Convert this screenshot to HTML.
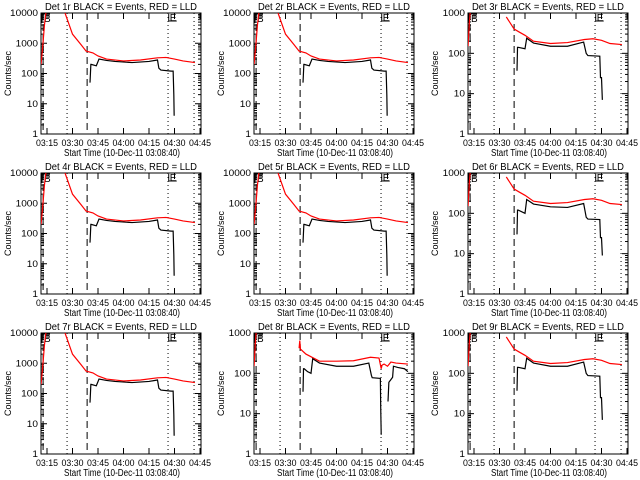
<!DOCTYPE html>
<html><head><meta charset="utf-8"><style>
html,body{margin:0;padding:0;background:#fff;}
svg{display:block;font-family:"Liberation Sans",sans-serif;}
</style></head><body>
<svg id="c" width="640" height="480" viewBox="0 0 640 480"></svg>
<script>
// data: times in minutes after 03:00
const detNames=["1r","2r","3r","4r","5r","6r","7r","8r","9r"];
const decades=[4,4,3,4,4,3,4,3,3];
const xTickLabels=["03:15","03:30","03:45","04:00","04:15","04:30","04:45"];
const xTickTimes=[15,30,45,60,75,90,105];
const markerTimes=[26.8,38.6,86.2,101.5];
const redT1=[11.5,12.5,13.5,14.5,25.6,30,35,38,42,45,50,60,70,80,85,90,95,102];
const redV1=[200,800,4000,12000,10000,2000,900,550,480,380,300,260,280,330,340,300,260,230];
const blkT1=[40.3,40.8,41,44,45.6,50,55,65,75,80,80.8,82,88,89.2,89.6,89.8];
const blkV1=[50,200,200,180,300,270,250,230,250,280,150,130,120,120,20,4];
const redT3=[11.5,12.3,13,31,34,38.6,42,45,50,60,70,80,85,90,95,102];
const redV3=[150,600,1400,1400,800,400,330,280,200,175,185,220,230,210,175,165];
const blkT3=[40.3,40.6,41,45,46,50,60,70,79.5,81,82,89,89.4,90,90.5];
const blkV3=[37,141,141,130,237,180,150,150,190,100,88,85,25,25,7];
const blkV6=[30,120,120,100,220,170,145,140,175,80,72,70,25,25,9];
const redT8=[11.5,12.3,13,34,38,38.4,38.8,42,50,60,70,80,85,86.3,86.8,88,90,92,95,102];
const redV8=[150,600,1400,1400,420,650,400,300,200,200,205,250,240,130,160,170,150,190,180,170];
const blkT8=[40.3,40.6,41,43,45,46,50,60,70,79,80.5,81,85.8,86,86.3];
const blkV8=[35,130,130,110,100,230,180,150,150,180,90,78,75,15,3];
const blkT8b=[90.3,90.8,92,93,93.5,96,100,102];
const blkV8b=[20,60,70,80,150,140,130,110];
const colLeft=[41,254,468], rowTop=[13,173,333], W=160, H=121;
const svg=document.getElementById('c');
const NS="http://www.w3.org/2000/svg";
function mk(tag,at,parent){const e=document.createElementNS(NS,tag);for(const k in at)e.setAttribute(k,at[k]);(parent||svg).appendChild(e);return e;}
for(let p=0;p<9;p++){
  const L=colLeft[p%3], T=rowTop[Math.floor(p/3)], D=decades[p];
  const g=mk('g',{});
  
  
  const xs=t=>L+6+(t-15)*1.7;
  const ys=v=>T+H-Math.log10(Math.max(v,1))/D*H;
  const cp=mk('clipPath',{id:'cp'+p},g);mk('rect',{x:L,y:T,width:W,height:H},cp);
  const fr=mk('rect',{x:L,y:T,width:W,height:H,fill:'none',stroke:'#000','stroke-width':1},g);
  
  
  for(let d=0;d<=D;d++){
    const y=ys(Math.pow(10,d));
    mk('line',{x1:L,x2:L+6,y1:y,y2:y,stroke:'#000'},g);
    mk('line',{x1:L+W-6,x2:L+W,y1:y,y2:y,stroke:'#000'},g);
    const lbl=String(Math.pow(10,d));
    const tx=mk('text',{x:L-3,y:y+3,'font-size':9,'text-anchor':'end',fill:'#000',textLength:lbl.length*5.6,lengthAdjust:'spacingAndGlyphs'},g);
    tx.textContent=lbl;
    
    
    if(d<D)for(let m=2;m<10;m++){const ym=ys(m*Math.pow(10,d));
      mk('line',{x1:L,x2:L+3,y1:ym,y2:ym,stroke:'#000'},g);
      mk('line',{x1:L+W-3,x2:L+W,y1:ym,y2:ym,stroke:'#000'},g);}
  }
  xTickTimes.forEach((t,i)=>{const x=xs(t);
    mk('line',{x1:x,x2:x,y1:T+H,y2:T+H-6,stroke:'#000'},g);
    mk('line',{x1:x,x2:x,y1:T,y2:T+6,stroke:'#000'},g);
    const tx=mk('text',{x:x-11,y:T+H+12,'font-size':9,fill:'#000',textLength:22,lengthAdjust:'spacingAndGlyphs'},g);
    tx.textContent=xTickLabels[i];
    
    
  });
  mk('line',{x1:xs(12.7),x2:xs(12.7),y1:T,y2:T+H,stroke:'#000','stroke-dasharray':'7,4'},g);
  markerTimes.forEach((t,i)=>{const x=xs(t);
    mk('line',{x1:x,x2:x,y1:T,y2:T+H,stroke:'#000','stroke-dasharray':i==1?'7,4':'1,3'},g);});
  mk('path',{d:`M${L+1} ${T+10}V${T+1}H${L+9}M${L+8} ${T+1}V${T+5}`,fill:'none',stroke:'#000'},g);
  const bx=mk('text',{x:L+3,y:T+9,'font-size':10,fill:'#000'},g);bx.textContent='B';
  
  const ex0=xs(86.6);
  mk('path',{d:`M${ex0} ${T+1}V${T+8}H${ex0+8}`,fill:'none',stroke:'#000'},g);
  const ex=mk('text',{x:ex0+1,y:T+8,'font-size':10,fill:'#000'},g);ex.textContent='E';
  
  let rT,rV,bT,bV;
  if(p==7){rT=redT8;rV=redV8;bT=blkT8;bV=blkV8;}
  else if(D==3){rT=redT3;rV=redV3;bT=blkT3;bV=(p==5?blkV6:blkV3);}
  else {rT=redT1;rV=redV1;bT=blkT1;bV=blkV1;}
  const line=(T_,V_,col,name)=>{const pl=mk('polyline',{points:T_.map((t,i)=>xs(t)+','+ys(V_[i])).join(' '),fill:'none',stroke:col,'stroke-width':1.2,'clip-path':`url(#cp${p})`},g);
    };
  line(rT.slice(0,4),rV.slice(0,4),'#f00','red-lld-rise');
  line(rT.slice(4),rV.slice(4),'#f00','red-lld-series');
  line(bT,bV,'#000','black-events-series');
  if(p==7)line(blkT8b,blkV8b,'#000','black-events-series-2');
  const tt=mk('text',{x:L+W/2-76,y:T-3,'font-size':10.5,fill:'#000',textLength:152,lengthAdjust:'spacingAndGlyphs'},g);
  tt.textContent='Det '+detNames[p]+' BLACK = Events, RED = LLD';
  
  const xt=mk('text',{x:L+W/2-57,y:T+H+22,'font-size':10,fill:'#000',textLength:116,lengthAdjust:'spacingAndGlyphs'},g);
  xt.textContent='Start Time (10-Dec-11 03:08:40)';
  
  const yt=mk('text',{x:0,y:0,'font-size':9,'text-anchor':'middle',fill:'#000',transform:`translate(${L-30},${T+H/2}) rotate(-90)`},g);
  yt.textContent='Counts/sec';
  
}
</script>
</body></html>
